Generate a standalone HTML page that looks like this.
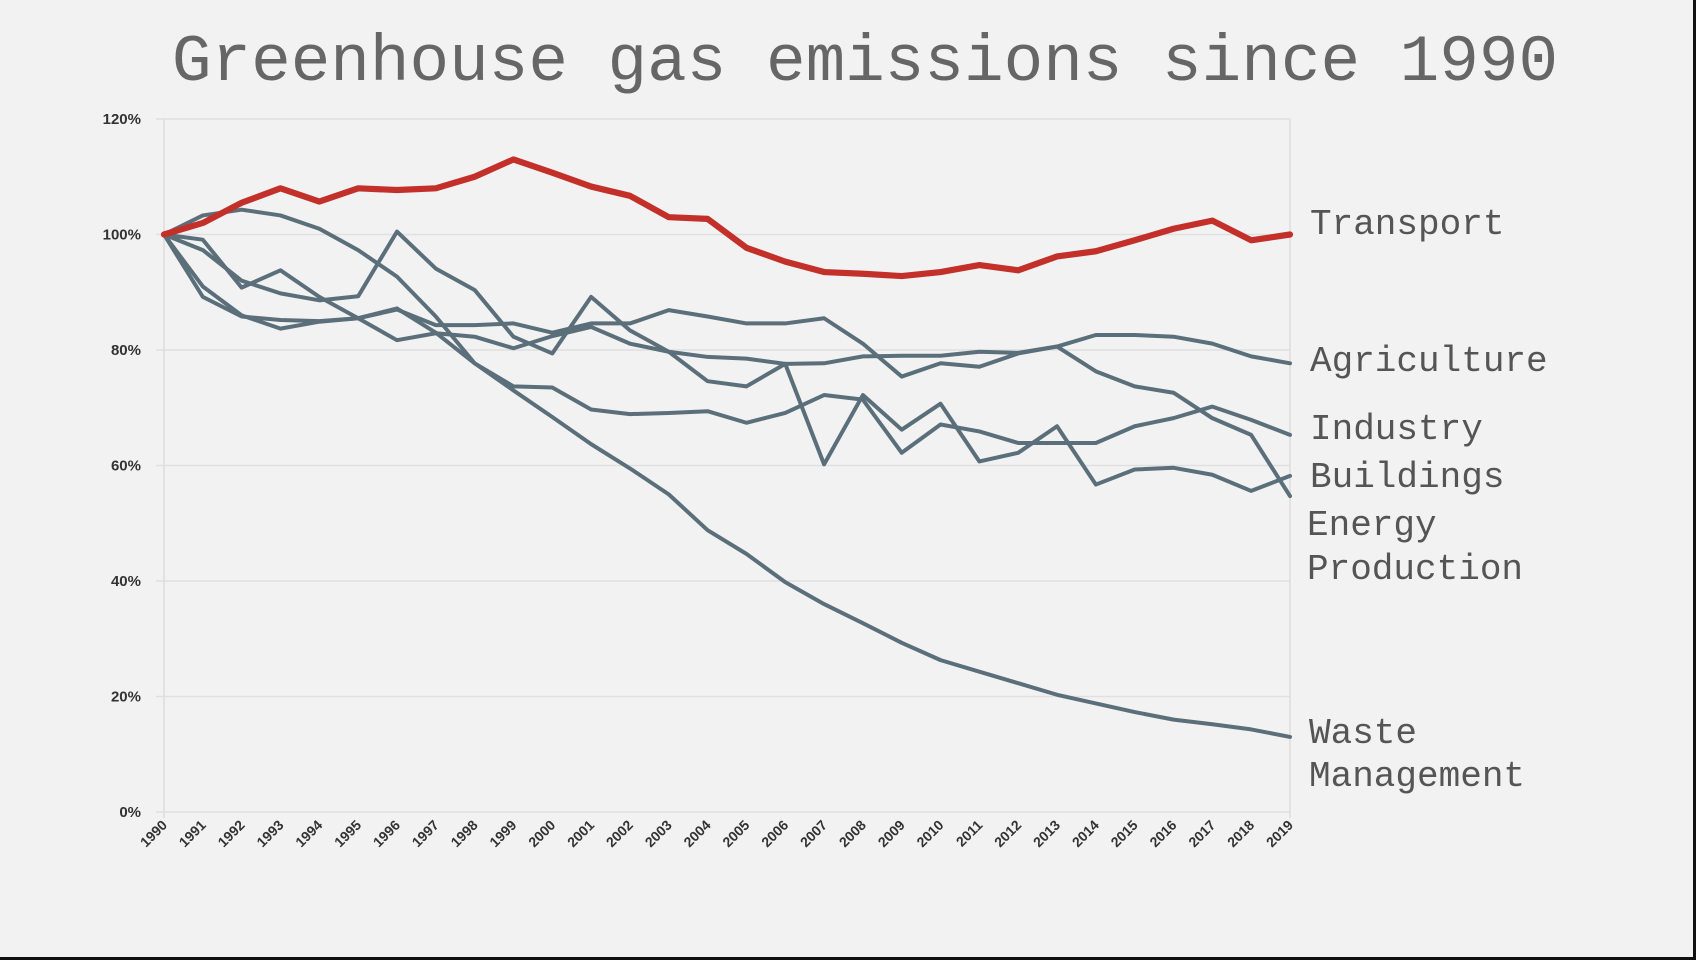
<!DOCTYPE html>
<html><head><meta charset="utf-8"><style>
html,body{margin:0;padding:0;background:#f2f2f2;}
#wrap{position:relative;width:1696px;height:960px;background:#f2f2f2;overflow:hidden;border-right:3px solid #111;border-bottom:3px solid #111;box-sizing:border-box;}
</style></head><body>
<div id="wrap">
<svg id="chart" width="1696" height="960"></svg>
</div>
<script>
const years = [1990,1991,1992,1993,1994,1995,1996,1997,1998,1999,2000,2001,2002,2003,2004,2005,2006,2007,2008,2009,2010,2011,2012,2013,2014,2015,2016,2017,2018,2019];
const yTicks = [0,20,40,60,80,100,120];
const transport = [100,102,105.5,108,105.7,108,107.7,108,110,113,110.7,108.3,106.7,103,102.7,97.7,95.3,93.5,93.2,92.8,93.5,94.7,93.8,96.2,97.1,99,101,102.4,99,100];
const agriculture = [100,89.2,85.8,85.2,85,85.5,87,84.3,84.3,84.6,83,84.6,84.6,86.9,85.8,84.6,84.6,85.5,81.1,75.4,77.7,77.1,79.4,80.6,82.6,82.6,82.3,81.1,78.9,77.7];
const industry = [100,91,86,83.7,84.9,85.5,87.2,83,77.7,73.7,73.5,69.7,68.9,69.1,69.4,67.4,69.1,72.2,71.4,62.2,67.1,65.9,63.9,63.9,63.9,66.8,68.2,70.2,67.9,65.3];
const buildings = [100,97.3,92,89.8,88.6,89.3,100.5,94.1,90.4,82.3,79.4,89.2,83.4,79.7,74.6,73.7,77.6,60.2,72.2,66.2,70.7,60.7,62.2,66.8,56.7,59.3,59.6,58.4,55.6,58.2];
const energy = [100,99.1,90.8,93.8,89.2,85.5,81.7,82.9,82.3,80.3,82.4,84,81.1,79.7,78.8,78.5,77.6,77.7,78.9,79,79,79.7,79.5,80.6,76.3,73.7,72.6,68.2,65.3,54.7];
const waste = [100,103.3,104.3,103.3,101,97.3,92.7,85.8,77.7,73,68.4,63.7,59.5,55,48.8,44.7,39.8,36,32.7,29.3,26.3,24.3,22.3,20.3,18.8,17.3,16,15.2,14.3,13];

const NS='http://www.w3.org/2000/svg';
const svg=document.getElementById('chart');
const X0=164,X1=1290,Y0=812,YTOP=119;
function xs(i){return X0+(X1-X0)*i/(years.length-1);}
function ys(v){return Y0-(Y0-YTOP)*v/120;}
function mk(t,a){const e=document.createElementNS(NS,t);for(const k in a)e.setAttribute(k,a[k]);svg.appendChild(e);return e;}

const title=mk('text',{x:865,y:80,'text-anchor':'middle','font-family':'"Liberation Mono",monospace','font-size':66,fill:'#666'});
title.textContent='Greenhouse gas emissions since 1990';



yTicks.forEach(v=>{
  const g=mk('line',{x1:X0-8,x2:X1,y1:ys(v),y2:ys(v),stroke:'#e0e0e0','stroke-width':1.5});
  
  
  const t=mk('text',{x:141,y:ys(v)+5,'text-anchor':'end','font-family':'"Liberation Sans",sans-serif','font-size':15,'font-weight':'bold',fill:'#333'});
  t.textContent=v+'%';
  
  
});
const ax=mk('line',{x1:X0,x2:X0,y1:YTOP,y2:Y0+6,stroke:'#ddd','stroke-width':1.5});


const ax2=mk('line',{x1:X1,x2:X1,y1:YTOP,y2:Y0+6,stroke:'#ddd','stroke-width':1.5});



years.forEach((y,i)=>{
  const t=mk('text',{x:xs(i)+4,y:Y0+14,'text-anchor':'end','font-family':'"Liberation Sans",sans-serif','font-size':14,'font-weight':'bold',fill:'#333',transform:'rotate(-45 '+(xs(i)+4)+' '+(Y0+14)+')'});
  t.textContent=y;
  
  
});

function series(vals,name,color,w){
  const p=mk('polyline',{points:vals.map((v,i)=>xs(i)+','+ys(v)).join(' '),fill:'none',stroke:color,'stroke-width':w,'stroke-linejoin':'round','stroke-linecap':'round'});
  
  
}
[[agriculture,'agriculture-line'],[industry,'industry-line'],[buildings,'buildings-line'],[energy,'energy-production-line'],[waste,'waste-management-line']].forEach(s=>series(s[0],s[1],'#5b6f7b',4));
series(transport,'transport-line','#c3302a',6.2);

const labels=[['Transport',1310,234],['Agriculture',1310,371],['Industry',1310,439],['Buildings',1310,487],['Energy',1307,535],['Production',1307,579],['Waste',1309,743],['Management',1309,786]];
labels.forEach(l=>{
  const t=mk('text',{x:l[1],y:l[2],'font-family':'"Liberation Mono",monospace','font-size':36,fill:'#555'});
  t.textContent=l[0];
  
  
});
</script>
</body></html>
